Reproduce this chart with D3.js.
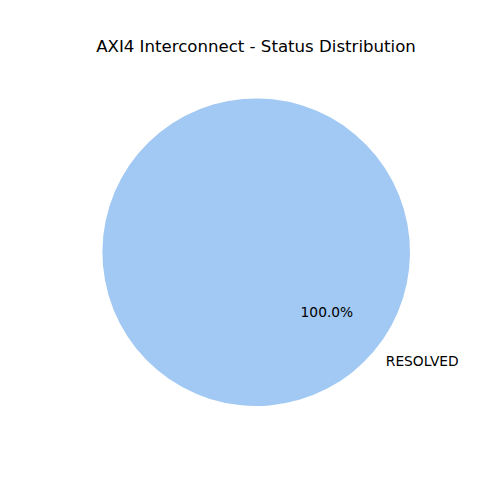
<!DOCTYPE html>
<html><head><meta charset="utf-8">
<script src="https://cdn.jsdelivr.net/npm/d3@7"></script>
<style>body{margin:0;background:#fff}svg{display:block}text{font-family:"DejaVu Sans",sans-serif;fill:#000}</style>
</head><body>
<script>
const categories = ["RESOLVED"];
const values = [1];
const colors = ["#a1c9f4"];
const title = "AXI4 Interconnect - Status Distribution";
const startAngleDeg = 140;

const W = 500, H = 500, cx = 256.2, cy = 252.2, R = 153.8;
const svg = d3.select("body").append("svg").attr("width", W).attr("height", H);
svg.append("text").attr("x", 256).attr("y", 46).attr("text-anchor", "middle")
  .attr("dominant-baseline", "central").style("font-size", "16.6px").text(title);

const total = d3.sum(values);
// matplotlib: counterclockwise from startangle; convert to d3 (clockwise from 12 o'clock)
const toD3 = a => (90 - a) * Math.PI / 180;
const pie = d3.pie().sort(null).value(d => d)
  .startAngle(toD3(startAngleDeg)).endAngle(toD3(startAngleDeg) - 2 * Math.PI);
const arcs = pie(values);
const arc = d3.arc().innerRadius(0).outerRadius(R);
const g = svg.append("g").attr("transform", `translate(${cx},${cy})`);
g.selectAll("path").data(arcs).join("path").attr("d", arc)
  .attr("fill", (d, i) => colors[i % colors.length]);

arcs.forEach((d, i) => {
  const mid = (d.startAngle + d.endAngle) / 2;
  const sx = Math.sin(mid), sy = -Math.cos(mid);
  g.append("text").attr("x", 1.1 * R * sx).attr("y", 1.1 * R * sy)
    .attr("text-anchor", sx >= 0 ? "start" : "end").attr("dominant-baseline", "central")
    .style("font-size", "13.8px").text(categories[i]);
  g.append("text").attr("x", 0.6 * R * sx).attr("y", 0.6 * R * sy)
    .attr("text-anchor", "middle").attr("dominant-baseline", "central")
    .style("font-size", "13.8px").text((values[i] / total * 100).toFixed(1) + "%");
});
</script>
</body></html>
